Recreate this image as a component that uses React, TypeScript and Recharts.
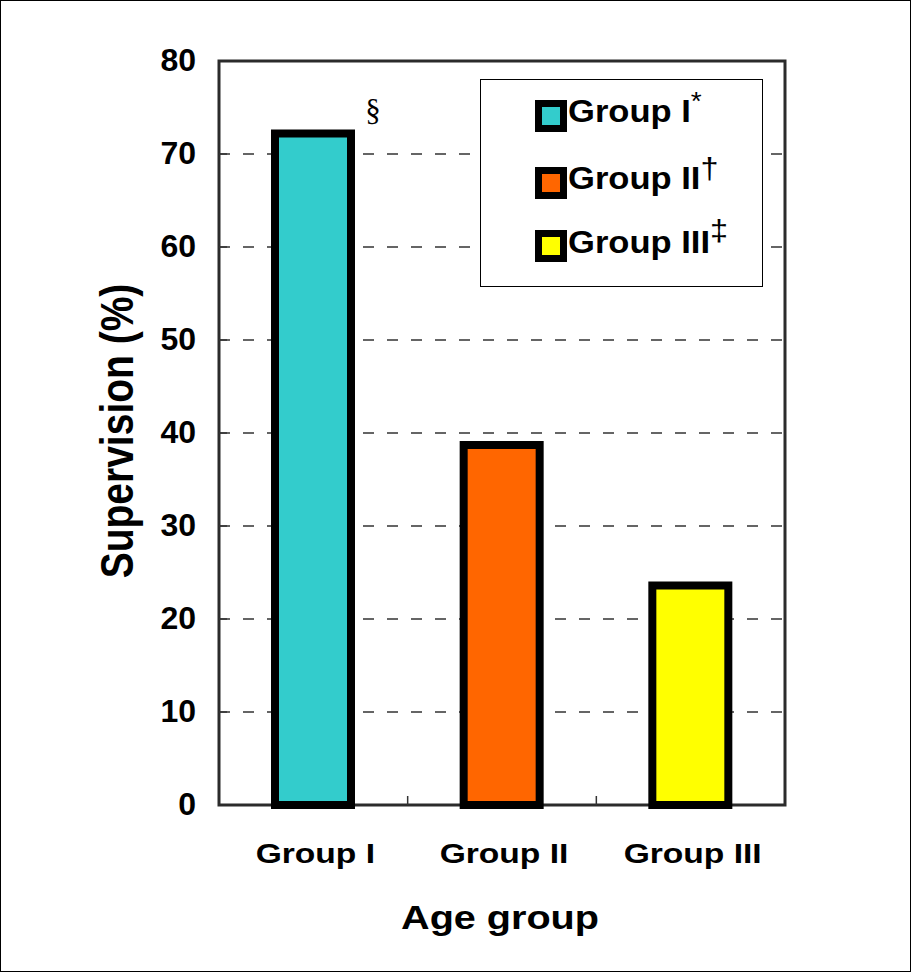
import React from 'react';
import { BarChart, Bar, XAxis, YAxis, CartesianGrid, ReferenceArea, Cell, LabelList, Legend, Label } from 'recharts';

const categories = ['Group I', 'Group II', 'Group III'];
const supervisionPct = [72.2, 38.7, 23.6];
const notes = ['§', '', ''];
const legendMarks = ['*', '†', '‡'];
const barColors = ['#33CCCC', '#FF6600', '#FFFF00'];
const yTicks = [0, 10, 20, 30, 40, 50, 60, 70, 80];

const data = categories.map((name, i) => ({ name, value: supervisionPct[i], note: notes[i] }));

const SANS = '"Liberation Sans", Arial, sans-serif';
const SERIF = '"Liberation Serif", "Times New Roman", serif';
const W = 911;
const H = 972;
const PLOT_W = 566;
const HALF_BAND = PLOT_W / categories.length / 2;

const YTick = (props: any) => {
  const { x, y, payload } = props;
  const v = payload.value;
  return (
    <g>
      {v > 0 && v < 80 && (
        <line x1={x + 23} x2={x + 31} y1={y} y2={y} stroke="#333" strokeWidth={1.5} />
      )}
      <text x={x} y={y + 10} textAnchor="end" fontSize={32} fontWeight="bold" fontFamily={SANS} fill="#000">
        {v}
      </text>
    </g>
  );
};

const XTick = (props: any) => {
  const { x, y, payload, index } = props;
  return (
    <g>
      {index > 0 && (
        <line x1={x - HALF_BAND} x2={x - HALF_BAND} y1={y - 58} y2={y - 67} stroke="#333" strokeWidth={1.5} />
      )}
      <text
        transform={`translate(${x + 2},${y}) scale(1.2,1)`}
        textAnchor="middle"
        fontSize={28}
        fontWeight="bold"
        fontFamily={SANS}
        fill="#000"
      >
        {payload.value}
      </text>
    </g>
  );
};

const NoteLabel = (props: any) => {
  const { x, y, width, value } = props;
  if (!value) return null;
  return (
    <text x={x + width + 22} y={y - 13} textAnchor="middle" fontSize={31} fontFamily={SERIF} fill="#000">
      {value}
    </text>
  );
};

const AgeLabel = (props: any) => {
  const { viewBox } = props;
  const cx = viewBox.x + viewBox.width / 2 - 2;
  const by = viewBox.y + 124;
  return (
    <text transform={`translate(${cx},${by}) scale(1.2,1)`} textAnchor="middle" fontSize={33} fontWeight="bold" fontFamily={SANS} fill="#000">
      Age group
    </text>
  );
};

const SupLabel = (props: any) => {
  const { viewBox } = props;
  const cy = viewBox.y + viewBox.height / 2 - 2;
  return (
    <text transform={`translate(133,${cy}) scale(1.2,1) rotate(-90)`} textAnchor="middle" fontSize={39} fontWeight="bold" fontFamily={SANS} fill="#000">
      Supervision (%)
    </text>
  );
};

const rowSwatchTop = [21, 88, 151];
const rowBaseline = [43, 110, 174];
const markSize = [26, 30, 30];
const markShift = [-12, -10, -12];

const LegendBox = () => (
  <svg width={283} height={208} style={{ display: 'block' }}>
    <rect x={0.5} y={0.5} width={282} height={207} fill="#fff" stroke="#000" strokeWidth={1} />
    {categories.map((c, i) => (
      <g key={c}>
        <rect x={55} y={rowSwatchTop[i]} width={32} height={32} fill="#000" />
        <rect x={62} y={rowSwatchTop[i] + 7} width={18} height={18} fill={barColors[i]} />
        <text
          transform={`translate(88,${rowBaseline[i]}) scale(1.08,1)`}
          fontSize={32}
          fontWeight="bold"
          fontFamily={SANS}
          fill="#000"
        >
          {c}
          <tspan dy={markShift[i]} fontSize={markSize[i]} fontWeight="normal">{legendMarks[i]}</tspan>
        </text>
      </g>
    ))}
  </svg>
);

export default function App() {
  return (
    <div style={{ position: 'absolute', left: 0, top: 0, width: W, height: H, background: '#fff' }}>
      <BarChart width={W} height={H} data={data} margin={{ top: 61, right: 126, bottom: 0, left: 0 }}>
        <CartesianGrid vertical={false} stroke="#333" strokeWidth={1.5} strokeDasharray="11 13" />
        <XAxis
          dataKey="name"
          height={167}
          axisLine={false}
          tickLine={false}
          tickSize={0}
          tickMargin={58}
          tick={<XTick />}
          interval={0}
        >
          <Label content={<AgeLabel />} />
        </XAxis>
        <YAxis
          width={219}
          domain={[0, 80]}
          ticks={yTicks}
          axisLine={false}
          tickLine={false}
          tickSize={0}
          tickMargin={23}
          tick={<YTick />}
        >
          <Label content={<SupLabel />} />
        </YAxis>
        <Legend
          layout="horizontal"
          verticalAlign="middle"
          align="center"
          wrapperStyle={{ left: 480, top: 79, width: 283, height: 208 }}
          content={<LegendBox />}
        />
        <Bar dataKey="value" barSize={76} stroke="#000" strokeWidth={8} isAnimationActive={false}>
          {data.map((d, i) => (
            <Cell key={d.name} fill={barColors[i]} />
          ))}
          <LabelList dataKey="note" content={<NoteLabel />} />
        </Bar>
        <ReferenceArea y1={0} y2={80} fill="none" stroke="#2b2b2b" strokeWidth={3} ifOverflow="visible" />
      </BarChart>
      <div style={{ position: 'absolute', left: 0, top: 0, width: W, height: H, border: '1px solid #000', boxSizing: 'border-box', pointerEvents: 'none' }} />
    </div>
  );
}
